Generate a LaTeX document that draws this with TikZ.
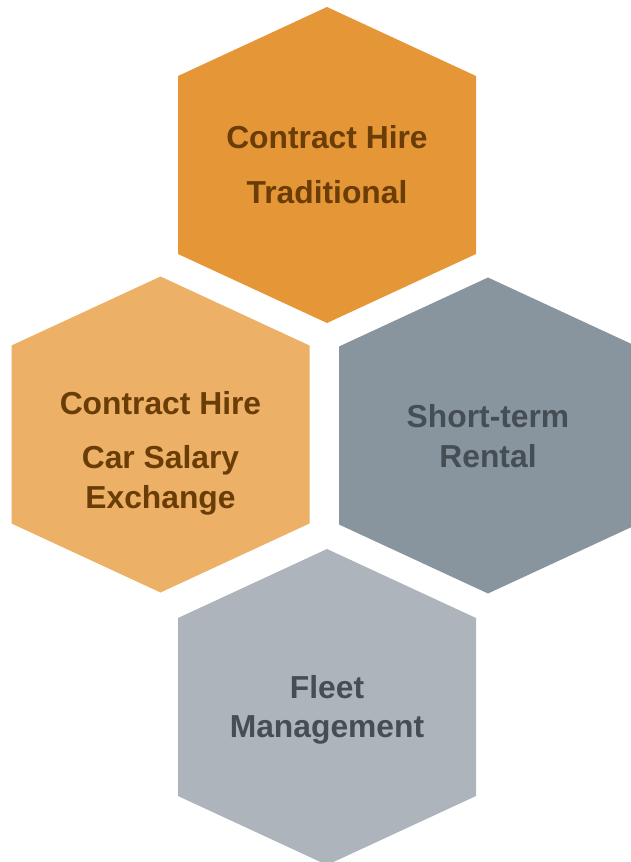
\documentclass[tikz,border=0pt]{standalone}
\usepackage{fontspec}
\setmainfont{Liberation Sans}
\definecolor{hireorange}{HTML}{E59637}
\definecolor{salaryorange}{HTML}{ECB067}
\definecolor{rentslate}{HTML}{89959E}
\definecolor{fleetgray}{HTML}{ADB4BB}
\definecolor{hirebrown}{HTML}{6B3D06}
\definecolor{rentdark}{HTML}{454D55}

\begin{document}
\begin{tikzpicture}
		[x=1pt, y=-1pt,
		label/.style ={font=\fontsize{31.8}{39.5}\selectfont\bfseries, align=center, inner sep=0pt},
		warm/.style ={label, text=hirebrown},
		cool/.style ={label, text=rentdark},
		]
		\useasboundingbox (0,0) rectangle (631,862);

		% hexagon cells
		\foreach \cx/\cy/\col in {327/165/hireorange, 160.5/434.5/salaryorange, 488/435.5/rentslate, 327/707/fleetgray}
		\fill[\col] (\cx,\cy) +(0,-158) -- +(149,-89) -- +(149,89) -- +(0,158) -- +(-149,89) -- +(-149,-89) -- cycle;

		\draw (327,164.5) node[warm] (trad) {Contract Hire\\[15pt]Traditional};
		\draw (160.5,453) node[warm] (salary) {Contract Hire\\[15pt]Car Salary\\Exchange};
		\draw (488,436) node[cool] (rental) {Short-term\\Rental};
		\draw (327,710) node[cool] (fleet) {Fleet\\Management};

	\end{tikzpicture}
\end{document}
